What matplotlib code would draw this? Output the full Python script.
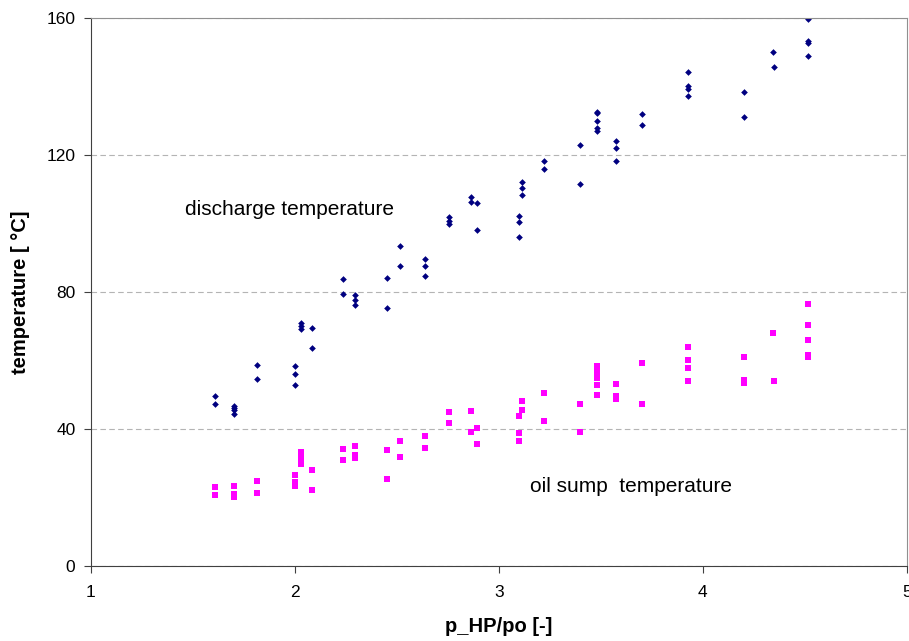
import matplotlib
matplotlib.use("Agg")
import matplotlib.pyplot as plt

plt.rcParams['font.family'] = ['Liberation Sans', 'DejaVu Sans']

# discharge temperature readings
dis_x = [1.61, 1.61,
         1.70, 1.70, 1.70, 1.70,
         1.815, 1.815,
         2.0, 2.0, 2.0,
         2.03, 2.03, 2.03,
         2.086, 2.086,
         2.236, 2.236,
         2.297, 2.297, 2.297,
         2.45, 2.45,
         2.517, 2.517,
         2.638, 2.638, 2.638,
         2.757, 2.757, 2.757,
         2.862, 2.862,
         2.894, 2.894,
         3.098, 3.098, 3.098,
         3.113, 3.113, 3.113,
         3.222, 3.222,
         3.397, 3.397,
         3.48, 3.48, 3.48, 3.48, 3.48,
         3.576, 3.576, 3.576,
         3.699, 3.699,
         3.929, 3.929, 3.929, 3.929,
         4.20, 4.20,
         4.345, 4.35,
         4.515, 4.515, 4.515, 4.515]
dis_t = [49.5, 47.4,
         46.7, 46.0, 45.6, 44.5,
         58.6, 54.5,
         58.3, 56.1, 52.9,
         70.9, 70.2, 69.1,
         69.6, 63.6,
         83.7, 79.4,
         79.1, 77.7, 76.1,
         84.1, 75.4,
         93.5, 87.5,
         89.6, 87.5, 84.6,
         102.0, 100.8, 99.7,
         107.8, 106.2,
         105.9, 98.2,
         102.2, 100.5, 96.0,
         112.2, 110.3, 108.2,
         118.2, 115.9,
         123.0, 111.6,
         132.6, 132.2, 129.8, 127.9, 126.9,
         124.0, 121.9, 118.3,
         132.1, 128.7,
         144.1, 140.0, 139.2, 137.1,
         138.4, 131.0,
         150.1, 145.6,
         159.7, 153.3, 152.6, 148.9]

# oil sump temperature readings
oil_x = [1.61, 1.61,
         1.70, 1.70, 1.70,
         1.815, 1.815,
         2.0, 2.0, 2.0,
         2.03, 2.03, 2.03,
         2.086, 2.086,
         2.236, 2.236,
         2.297, 2.297, 2.297,
         2.45, 2.45,
         2.517, 2.517,
         2.638, 2.638,
         2.757, 2.757,
         2.862, 2.862,
         2.894, 2.894,
         3.098, 3.098, 3.098,
         3.113, 3.113,
         3.222, 3.222,
         3.397, 3.397,
         3.48, 3.48, 3.48, 3.48, 3.48,
         3.576, 3.576, 3.576,
         3.699, 3.699,
         3.929, 3.929, 3.929, 3.929,
         4.20, 4.20, 4.20,
         4.345, 4.35,
         4.515, 4.515, 4.515, 4.515, 4.515]
oil_t = [23.0, 20.8,
         23.4, 21.0, 20.1,
         24.7, 21.3,
         26.7, 24.5, 23.4,
         33.2, 31.6, 29.7,
         28.0, 22.1,
         34.3, 31.0,
         35.1, 32.4, 31.4,
         33.9, 25.4,
         36.4, 31.9,
         37.9, 34.4,
         45.1, 41.8,
         45.3, 39.1,
         40.3, 35.5,
         43.9, 38.8, 36.5,
         48.2, 45.5,
         50.6, 42.4,
         47.3, 39.0,
         58.5, 56.5, 54.9, 52.9, 49.8,
         53.2, 49.5, 48.8,
         59.2, 47.3,
         63.9, 60.1, 57.8, 53.9,
         61.1, 54.3, 53.3,
         67.9, 53.9,
         76.5, 70.3, 66.0, 61.6, 61.1]

fig = plt.figure(figsize=(9.09, 6.41), dpi=100)
ax = fig.add_axes([0.0998, 0.117, 0.898, 0.855])

ax.plot(dis_x, dis_t, 'D', color='#000080', markersize=3.4, markeredgewidth=0)
ax.plot(oil_x, oil_t, 's', color='#ff00ff', markersize=3.8, markeredgewidth=0)

ax.set_xlim(1, 5)
ax.set_ylim(0, 160)
ax.set_xticks([1, 2, 3, 4, 5])
ax.set_yticks([0, 40, 80, 120, 160])
ax.yaxis.grid(True, linestyle=(0, (5, 3)), color='#b4b4b4', linewidth=0.8)
ax.set_axisbelow(True)

ax.spines['left'].set_color('#404040')
ax.spines['bottom'].set_color('#404040')
ax.spines['top'].set_color('#909090')
ax.spines['right'].set_color('#909090')
ax.tick_params(labelsize=12.5, length=5, color='#404040')
ax.tick_params(axis='x', pad=9)
ax.tick_params(axis='y', pad=6)

ax.set_xlabel('p_HP/po [-]', fontsize=14.5, fontweight='bold', labelpad=12)
ax.set_ylabel('temperature [ °C]', fontsize=14.5, fontweight='bold', labelpad=12)

ax.text(1.462, 104.2, 'discharge temperature', fontsize=15, va='center')
ax.text(3.155, 23.1, 'oil sump  temperature', fontsize=15, va='center')

fig.savefig('out.png', dpi=100)
